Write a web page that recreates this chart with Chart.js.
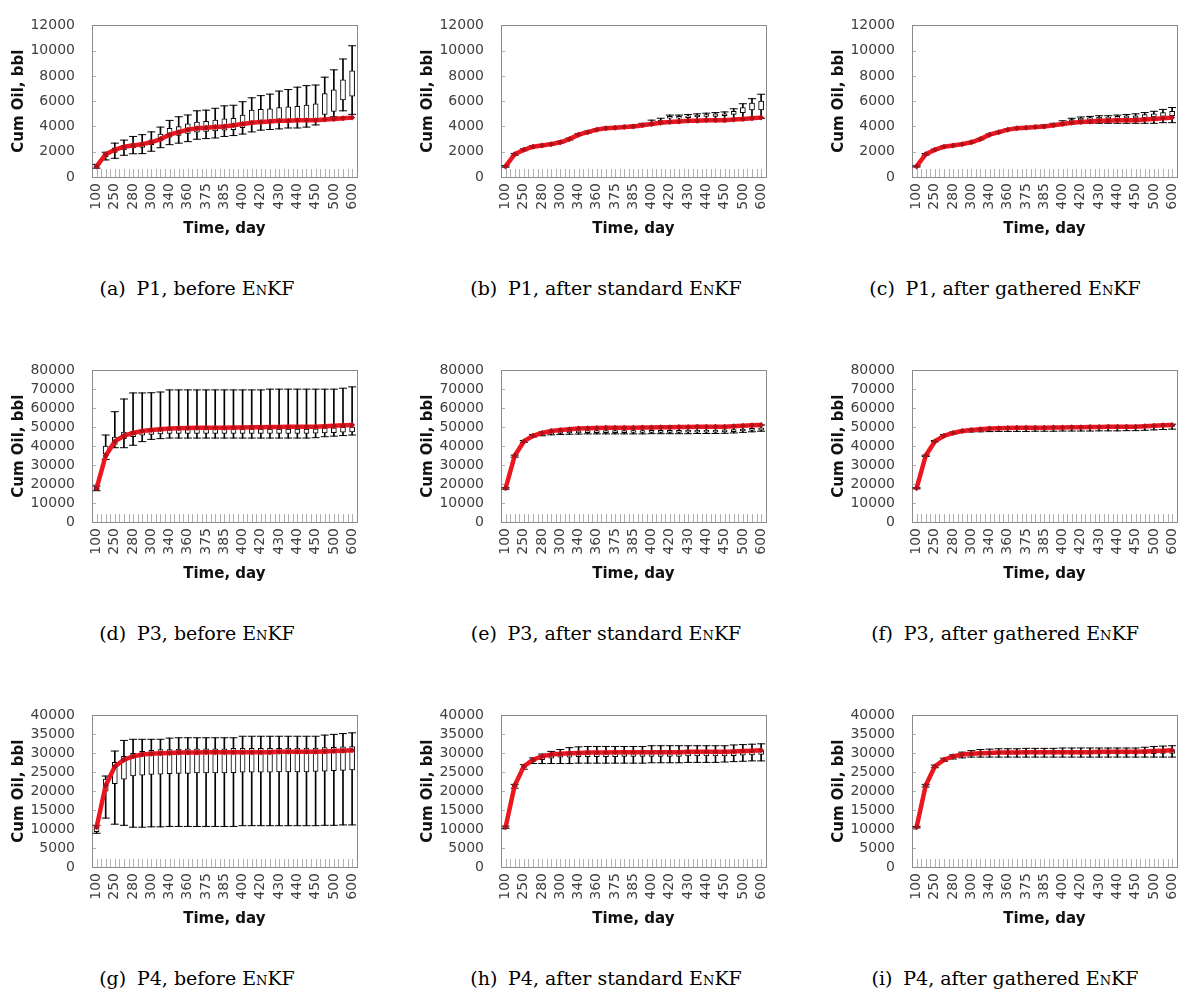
<!DOCTYPE html>
<html>
<head>
<meta charset="utf-8">
<script src="https://cdn.jsdelivr.net/npm/chart.js@4.4.1/dist/chart.umd.min.js"></script>
<style>
  body { margin: 0; background: #fff; }
  #page { position: relative; width: 1195px; height: 993px; overflow: hidden; }
  .panel { position: absolute; }
  .cap { position: absolute; width: 420px; height: 24px; line-height: 24px; text-align: center;
         font-family: 'DejaVu Serif', serif; font-size: 19px; color: #000; white-space: nowrap; }
  .sc { font-variant: small-caps; }
  .gap { display: inline-block; width: 0.25em; }
</style>
</head>
<body>
<div id="page"></div>
<script>
// time steps (every other one is labelled on the axis)
const days = [100,200,250,270,280,290,300,320,340,350,360,370,375,380,385,390,400,410,420,425,430,435,440,445,450,475,500,550,600]

// reference (true) cumulative oil, red line
const p1True = [840,1800,2150,2400,2500,2600,2750,3000,3350,3550,3750,3850,3900,3950,4000,4100,4200,4300,4350,4400,4450,4450,4500,4500,4500,4550,4600,4650,4700]
const p3True = [17800,35000,42500,45500,47000,48000,48500,49000,49300,49500,49600,49700,49700,49800,49800,49900,49900,50000,50000,50100,50100,50200,50200,50300,50300,50500,50800,51000,51200]
const p4True = [10500,21500,26500,28300,29200,29700,29900,30000,30100,30200,30200,30200,30300,30300,30300,30300,30300,30300,30300,30300,30400,30400,30400,30400,30400,30500,30600,30700,30800]

// (a) P1 before EnKF
const aMin = [700,1350,1480,1720,1840,1850,2040,2320,2560,2680,2800,2990,3040,3090,3210,3280,3400,3570,3710,3760,3810,3880,3880,3950,4120,4480,4770,5240,4960]
const aQ1  = [760,1600,1950,2150,2300,2350,2550,2850,3150,3300,3450,3550,3600,3650,3700,3750,3900,4250,4300,4350,4400,4450,4500,4550,4600,4950,5200,6100,6400]
const aQ3  = [900,1850,2300,2500,2650,2700,2950,3400,3850,4000,4200,4350,4400,4500,4600,4650,4900,5300,5350,5400,5500,5550,5600,5700,5800,6600,6900,7700,8400]
const aMax = [1000,1960,2680,2920,3210,3350,3570,3950,4480,4770,4910,5240,5290,5440,5630,5680,5960,6270,6440,6560,6800,6920,7110,7230,7280,7900,8480,9340,10390]

// (b) P1 after standard EnKF
const bMin = [780,1720,2080,2330,2430,2530,2680,2930,3280,3480,3680,3780,3830,3880,3930,4020,4150,4250,4300,4350,4400,4400,4450,4450,4450,4500,4550,4600,4650]
const bQ1  = [810,1760,2120,2370,2470,2570,2720,2970,3320,3520,3720,3820,3870,3920,3980,4080,4250,4350,4650,4650,4700,4750,4800,4800,4850,4950,5100,5300,5300]
const bQ3  = [860,1830,2190,2440,2540,2640,2790,3040,3390,3590,3790,3890,3950,4000,4060,4180,4350,4500,4800,4800,4850,4900,4950,5000,5000,5200,5500,5850,6000]
const bMax = [900,1870,2230,2480,2580,2680,2830,3080,3430,3630,3830,3940,4000,4060,4120,4250,4500,4650,4900,4900,4950,5000,5050,5100,5150,5400,5800,6200,6550]

// (c) P1 after gathered EnKF
const cMin = [790,1740,2100,2350,2450,2550,2700,2950,3300,3500,3700,3800,3850,3900,3950,4050,4150,4200,4250,4250,4250,4250,4250,4250,4250,4250,4250,4300,4300]
const cQ1  = [810,1770,2130,2380,2480,2580,2730,2980,3330,3530,3730,3830,3880,3940,4000,4100,4250,4400,4500,4500,4550,4600,4600,4650,4650,4700,4750,4800,4850]
const cQ3  = [860,1830,2180,2430,2530,2630,2780,3030,3380,3580,3790,3890,3950,4010,4080,4200,4350,4550,4650,4700,4750,4750,4800,4850,4850,4950,5000,5100,5200]
const cMax = [890,1860,2210,2460,2560,2660,2810,3060,3410,3610,3820,3930,3990,4060,4130,4250,4450,4650,4750,4800,4850,4850,4900,4950,5000,5100,5200,5350,5500]

// (d) P3 before EnKF
const dMin = [16500,33000,39200,39200,40500,42400,43600,44000,44300,44300,44300,44300,44300,44300,44300,44300,44300,44300,44300,44300,44300,44300,44300,44300,44500,45000,45300,45600,45900]
const dQ1  = [17000,36000,41000,44000,45000,45800,46200,46500,46700,46800,46800,46800,46800,46800,46800,46800,46800,46800,46800,46800,46800,46800,46800,46800,46900,47000,47200,47400,47600]
const dQ3  = [18800,40000,44800,47500,48000,48300,48500,48700,48900,49000,49000,49000,49000,49000,49000,49000,49000,49000,49000,49000,49000,49000,49000,49000,49200,49500,49700,49900,50100]
const dMax = [19000,45900,58200,64900,68100,68100,68200,68600,69700,69700,69700,69700,69700,69700,69700,69700,69700,69700,69700,70100,70100,70100,70100,70100,70100,70100,70100,70600,71300]

// (e) P3 after standard EnKF
const eMin = [17300,34200,42000,44800,45500,46000,46200,46300,46400,46500,46500,46500,46500,46500,46500,46500,46600,46600,46600,46600,46600,46700,46700,46700,46800,47000,47300,47600,47900]
const eQ1  = [17500,34500,42300,45300,46000,46500,46800,47000,47100,47200,47200,47200,47200,47200,47300,47300,47300,47300,47300,47300,47400,47400,47400,47400,47500,47700,48000,48300,48500]
const eQ3  = [17800,34900,42700,45800,46800,47300,47700,48000,48100,48200,48200,48200,48300,48300,48300,48300,48400,48400,48400,48400,48500,48500,48500,48500,48600,48800,49100,49400,49700]
const eMax = [18100,35300,43000,46200,47500,48200,48600,49000,49300,49500,49600,49700,49700,49800,49800,49900,49900,50000,50000,50100,50100,50200,50200,50300,50300,50500,50800,51000,51200]

// (f) P3 after gathered EnKF
const fMin = [17500,34600,42300,45200,46500,47200,47500,47600,47700,47800,47800,47800,47800,47900,47900,47900,48000,48000,48000,48000,48100,48100,48100,48200,48200,48400,48600,48800,49000]
const fQ1  = [17700,34800,42500,45500,46900,47700,48100,48500,48700,48900,49000,49100,49100,49200,49200,49300,49300,49400,49400,49500,49500,49600,49600,49700,49700,49900,50100,50300,50500]
const fQ3  = [17900,35100,42800,45800,47200,48100,48600,49000,49300,49500,49600,49700,49700,49800,49800,49900,49900,50000,50000,50100,50100,50200,50200,50300,50300,50500,50800,51000,51200]
const fMax = [18100,35300,43000,46100,47500,48400,48900,49400,49700,49900,50000,50100,50100,50200,50200,50300,50300,50400,50400,50500,50500,50600,50600,50700,50700,50900,51200,51400,51600]

// (g) P4 before EnKF
const gMin = [8900,12900,11300,11000,10500,10500,10600,10600,10700,10700,10700,10700,10700,10700,10700,10700,10900,10900,10900,10900,10900,10900,10900,10900,10900,11000,11000,11100,11100]
const gQ1  = [9300,20000,22000,23200,24000,24200,24400,24500,24600,24700,24700,24800,24800,24800,24800,24900,25000,25000,25000,25000,25100,25100,25100,25100,25200,25300,25400,25500,25600]
const gQ3  = [10800,23200,27600,29200,30000,30500,30800,31000,31000,31100,31200,31200,31200,31200,31200,31300,31300,31300,31300,31300,31300,31400,31400,31400,31400,31500,31600,31700,31800]
const gMax = [11000,24000,30600,33400,33700,33700,33700,33700,34000,34100,34100,34100,34100,34100,34100,34100,34500,34500,34500,34500,34500,34500,34500,34500,34500,34800,35000,35200,35400]

// (h) P4 after standard EnKF
const hMin = [10200,20800,25800,27300,27300,27300,27300,27300,27400,27400,27400,27400,27400,27400,27400,27400,27500,27500,27500,27500,27600,27600,27600,27600,27700,27800,27900,28000,28000]
const hQ1  = [10400,21200,26200,27800,28300,28700,29000,29000,29100,29100,29100,29100,29100,29200,29200,29200,29200,29200,29200,29200,29300,29300,29300,29300,29300,29400,29500,29600,29700]
const hQ3  = [10600,21500,26600,28300,29000,29500,29800,30000,30100,30100,30100,30100,30200,30200,30200,30200,30200,30200,30200,30200,30300,30300,30300,30300,30300,30400,30500,30600,30700]
const hMax = [10800,21800,27000,28800,29800,30500,31000,31500,31700,31800,31800,31800,31800,31800,31800,31800,32000,32000,32000,32000,32000,32000,32000,32000,32000,32200,32300,32400,32500]

// (i) P4 after gathered EnKF
const iMin = [10300,21100,26200,27900,28500,28800,29000,29000,29000,29000,29000,29000,29000,29000,29000,29000,29000,29000,29000,29000,29000,29000,29000,29000,29000,29000,29000,29000,29000]
const iQ1  = [10400,21300,26400,28100,28900,29400,29600,29700,29700,29800,29800,29800,29800,29800,29800,29800,29800,29800,29800,29800,29800,29800,29800,29800,29800,29900,29900,30000,30000]
const iQ3  = [10600,21600,26700,28500,29300,29900,30100,30300,30300,30400,30400,30400,30400,30400,30400,30400,30500,30500,30500,30500,30500,30500,30500,30500,30500,30600,30700,30800,30900]
const iMax = [10700,21800,26900,28700,29600,30300,30700,31000,31100,31200,31200,31200,31300,31300,31300,31300,31400,31400,31400,31400,31400,31400,31400,31400,31400,31600,31800,31900,32000]

const panels = [
  { tag: '(a)', well: 'P1', stage: 'before',          truth: p1True, lo: aMin, q1: aQ1, q3: aQ3, hi: aMax, yMax: 12000, yStep: 2000 },
  { tag: '(b)', well: 'P1', stage: 'after standard',  truth: p1True, lo: bMin, q1: bQ1, q3: bQ3, hi: bMax, yMax: 12000, yStep: 2000 },
  { tag: '(c)', well: 'P1', stage: 'after gathered',  truth: p1True, lo: cMin, q1: cQ1, q3: cQ3, hi: cMax, yMax: 12000, yStep: 2000 },
  { tag: '(d)', well: 'P3', stage: 'before',          truth: p3True, lo: dMin, q1: dQ1, q3: dQ3, hi: dMax, yMax: 80000, yStep: 10000 },
  { tag: '(e)', well: 'P3', stage: 'after standard',  truth: p3True, lo: eMin, q1: eQ1, q3: eQ3, hi: eMax, yMax: 80000, yStep: 10000 },
  { tag: '(f)', well: 'P3', stage: 'after gathered',  truth: p3True, lo: fMin, q1: fQ1, q3: fQ3, hi: fMax, yMax: 80000, yStep: 10000 },
  { tag: '(g)', well: 'P4', stage: 'before',          truth: p4True, lo: gMin, q1: gQ1, q3: gQ3, hi: gMax, yMax: 40000, yStep: 5000 },
  { tag: '(h)', well: 'P4', stage: 'after standard',  truth: p4True, lo: hMin, q1: hQ1, q3: hQ3, hi: hMax, yMax: 40000, yStep: 5000 },
  { tag: '(i)', well: 'P4', stage: 'after gathered',  truth: p4True, lo: iMin, q1: iQ1, q3: iQ3, hi: iMax, yMax: 40000, yStep: 5000 },
]

const colLeft = [0, 409, 820]
const rowTop = [0, 345, 690]
const capX = [197, 606, 1005]
const capY = [288, 633, 978]

Chart.defaults.font.family = "'DejaVu Sans', sans-serif"

// plot frame plus the little inside tick marks
const frame = {
  id: 'frame',
  beforeDatasetsDraw(chart) {
    const { ctx, chartArea: a, scales: { x, y } } = chart
    const half = (x.getPixelForValue(1) - x.getPixelForValue(0)) / 2
    ctx.save()
    ctx.lineWidth = 1
    ctx.strokeStyle = '#b0b0b0'
    ctx.beginPath()
    for (let i = 0; i < days.length; i++) {
      const cx = x.getPixelForValue(i)
      ;[cx - half, cx].forEach((px) => {
        const xx = Math.round(px) + 0.5
        ctx.moveTo(xx, a.bottom)
        ctx.lineTo(xx, a.bottom - 8)
      })
    }
    y.ticks.forEach((t) => {
      const yy = Math.round(y.getPixelForValue(t.value)) + 0.5
      ctx.moveTo(a.left, yy)
      ctx.lineTo(a.left + 4, yy)
    })
    ctx.stroke()
    ctx.strokeStyle = '#8a8a8a'
    ctx.strokeRect(Math.round(a.left) + 0.5, Math.round(a.top) + 0.5, Math.round(a.width), Math.round(a.height))
    ctx.restore()
  }
}

const page = document.getElementById('page')

panels.forEach((p, n) => {
  const col = n % 3
  const row = Math.floor(n / 3)

  const canvas = document.createElement('canvas')
  canvas.className = 'panel'
  canvas.width = 375
  canvas.height = 240
  canvas.style.left = colLeft[col] + 'px'
  canvas.style.top = rowTop[row] + 'px'
  page.appendChild(canvas)

  const cap = document.createElement('div')
  cap.className = 'cap'
  cap.style.left = (capX[col] - 210) + 'px'
  cap.style.top = (capY[row] - 12) + 'px'
  cap.innerHTML = `${p.tag}<span class="gap"></span> ${p.well}, ${p.stage} E<span class="sc">n</span>KF`
  page.appendChild(cap)

  new Chart(canvas, {
    type: 'bar',
    data: {
      labels: days,
      datasets: [
        {
          type: 'line',
          data: p.truth,
          borderColor: 'rgb(236,22,30)',
          borderWidth: 4.5,
          tension: 0,
          pointStyle: 'rectRot',
          pointRadius: 3,
          pointBackgroundColor: '#b0101c',
          pointBorderColor: '#b0101c',
          pointBorderWidth: 0,
          order: 0,
        },
        {
          type: 'line',
          data: p.hi,
          showLine: false,
          pointStyle: 'line',
          pointRadius: 4,
          pointBorderColor: '#000',
          pointBorderWidth: 1,
          order: 1,
        },
        {
          type: 'line',
          data: p.lo,
          showLine: false,
          pointStyle: 'line',
          pointRadius: 4,
          pointBorderColor: '#000',
          pointBorderWidth: 1,
          order: 1,
        },
        {
          data: p.q1.map((v, i) => [v, p.q3[i]]),
          backgroundColor: '#fff',
          borderColor: '#000',
          borderWidth: 1,
          borderSkipped: false,
          barThickness: 5,
          grouped: false,
          order: 2,
        },
        {
          data: p.lo.map((v, i) => [v, p.hi[i]]),
          backgroundColor: '#000',
          borderWidth: 0,
          barThickness: 1,
          grouped: false,
          order: 3,
        },
      ],
    },
    options: {
      responsive: false,
      animation: false,
      devicePixelRatio: 1,
      layout: { padding: { top: 10, right: 5, bottom: 0, left: 0 } },
      plugins: { legend: { display: false }, tooltip: { enabled: false } },
      scales: {
        x: {
          grid: { display: false, drawTicks: false },
          border: { display: false },
          ticks: {
            autoSkip: false,
            minRotation: 90,
            maxRotation: 90,
            padding: 6,
            color: '#404040',
            font: { size: 14 },
            callback(val, i) { return i % 2 ? '' : this.getLabelForValue(val) },
          },
          title: {
            display: true,
            text: 'Time, day',
            color: '#111',
            font: { size: 15, weight: 'bold' },
            padding: { top: 0, bottom: 2 },
          },
          afterFit(s) { s.height = 63 },
        },
        y: {
          min: 0,
          max: p.yMax,
          grid: { display: false, drawTicks: false },
          border: { display: false },
          ticks: {
            stepSize: p.yStep,
            autoSkip: false,
            padding: 17,
            color: '#404040',
            font: { size: 14 },
            callback: (v) => String(v),
          },
          title: {
            display: true,
            text: 'Cum Oil, bbl',
            color: '#111',
            font: { size: 15, weight: 'bold' },
            padding: { top: 10, bottom: 0 },
          },
          afterFit(s) { s.width = 92 },
        },
      },
    },
    plugins: [frame],
  })
})
</script>
</body>
</html>
